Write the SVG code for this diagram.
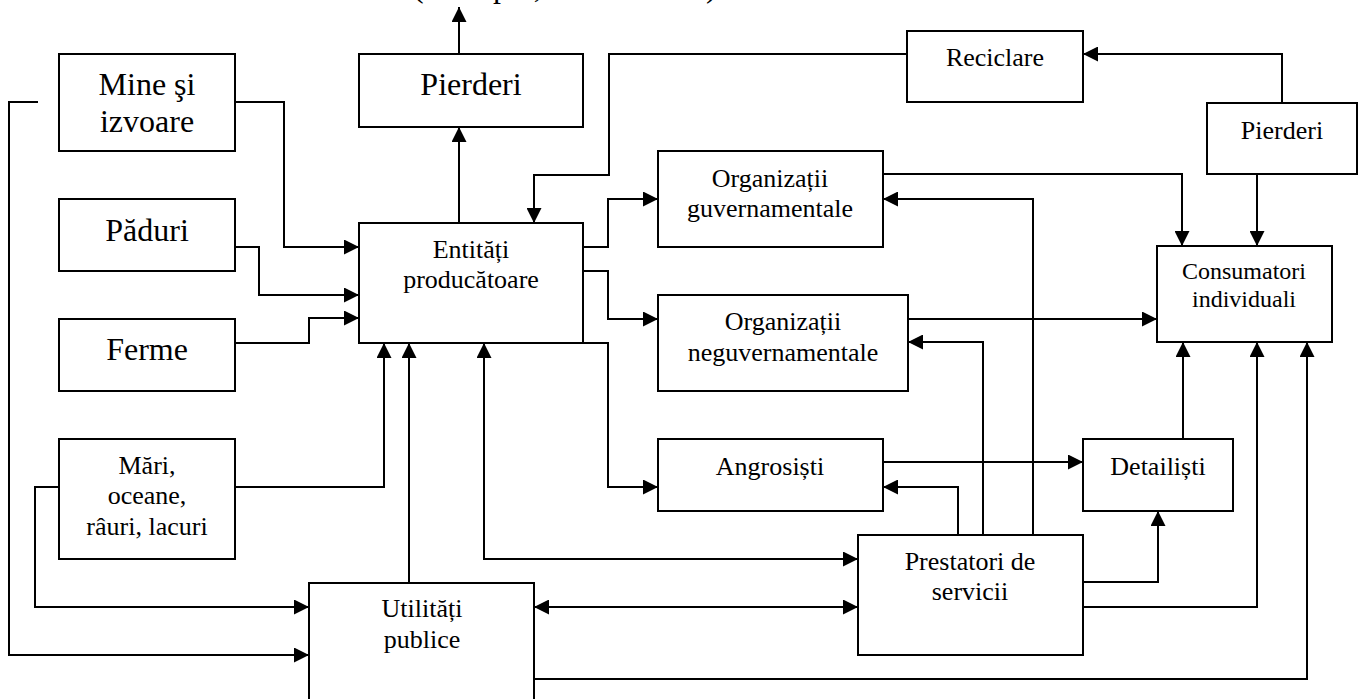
<svg xmlns="http://www.w3.org/2000/svg" width="1358" height="699" viewBox="0 0 1358 699">
  <defs>
    <style>
      .box { fill: #fff; stroke: #000; stroke-width: 2; }
      .lbl { fill: #000; text-anchor: middle; }
      .big { font-size: 32px; }
      .mid { font-size: 26px; }
      .sm { font-size: 24px; }
      .wire { fill: none; stroke: #000; stroke-width: 2; }
      .arr { marker-end: url(#head); }
      .both { marker-start: url(#head); marker-end: url(#head); }
    </style>
    <marker id="head" markerUnits="userSpaceOnUse" markerWidth="15" markerHeight="15" refX="15" refY="7.5" orient="auto-start-reverse">
      <path d="M0,0 L15,7.5 L0,15 z" fill="#000"/>
    </marker>
  </defs>
  <rect width="1358" height="699" fill="#fff"/>

  <g font-family="'Liberation Serif', 'Times New Roman', 'DejaVu Serif', serif">
  <!-- heading above the chart, mostly outside the canvas -->
  <text class="big" y="-3" fill="#000"><tspan x="413">(exemplu,</tspan><tspan x="706">)</tspan></text>

  <g id="connectors">
    <path class="wire arr" d="M235,102 H284 V247 H359"/>
    <path class="wire arr" d="M38,102 H9 V655 H309"/>
    <path class="wire arr" d="M235,247 H259 V295 H359"/>
    <path class="wire arr" d="M235,343 H309 V318 H359"/>
    <path class="wire arr" d="M235,487 H384 V343"/>
    <path class="wire arr" d="M59,487 H35 V607 H309"/>
    <path class="wire arr" d="M459,223 V127"/>
    <path class="wire arr" d="M459,54 V7"/>
    <path class="wire arr" d="M409,583 V343"/>
    <path class="wire both" d="M484,343 V559 H858"/>
    <path class="wire both" d="M534,607 H858"/>
    <path class="wire arr" d="M534,679 H1307 V342"/>
    <path class="wire arr" d="M583,247 H608 V199 H658"/>
    <path class="wire arr" d="M583,271 H608 V319 H658"/>
    <path class="wire arr" d="M583,343 H608 V487 H658"/>
    <path class="wire arr" d="M907,54 H609 V175 H534 V223"/>
    <path class="wire arr" d="M1282,103 V54 H1083"/>
    <path class="wire arr" d="M1257,174 V246"/>
    <path class="wire arr" d="M883,174 H1182 V246"/>
    <path class="wire arr" d="M908,319 H1157"/>
    <path class="wire arr" d="M883,462 H1083"/>
    <path class="wire arr" d="M958,535 V487 H883"/>
    <path class="wire arr" d="M983,535 V342 H908"/>
    <path class="wire arr" d="M1033,535 V199 H883"/>
    <path class="wire arr" d="M1183,439 V342"/>
    <path class="wire arr" d="M1083,582 H1158 V511"/>
    <path class="wire arr" d="M1083,607 H1257 V342"/>
  </g>

  <g id="mine">
    <rect class="box" x="59" y="54" width="176" height="97"/>
    <text class="lbl big" x="147" y="95">Mine şi</text>
    <text class="lbl big" x="147" y="132">izvoare</text>
  </g>
  <g id="paduri">
    <rect class="box" x="59" y="199" width="176" height="72"/>
    <text class="lbl big" x="147" y="241">Păduri</text>
  </g>
  <g id="ferme">
    <rect class="box" x="59" y="319" width="176" height="72"/>
    <text class="lbl big" x="147" y="360">Ferme</text>
  </g>
  <g id="mari">
    <rect class="box" x="59" y="439" width="176" height="120"/>
    <text class="lbl mid" x="147" y="474">Mări,</text>
    <text class="lbl mid" x="147" y="504">oceane,</text>
    <text class="lbl mid" x="147" y="535">râuri, lacuri</text>
  </g>
  <g id="pierderi-sus">
    <rect class="box" x="359" y="54" width="224" height="73"/>
    <text class="lbl big" x="471" y="95">Pierderi</text>
  </g>
  <g id="entitati">
    <rect class="box" x="359" y="223" width="224" height="120"/>
    <text class="lbl mid" x="471" y="258">Entități</text>
    <text class="lbl mid" x="471" y="288">producătoare</text>
  </g>
  <g id="utilitati">
    <rect class="box" x="309" y="583" width="225" height="130"/>
    <text class="lbl mid" x="422" y="617">Utilități</text>
    <text class="lbl mid" x="422" y="648">publice</text>
  </g>
  <g id="org-guv">
    <rect class="box" x="658" y="151" width="225" height="96"/>
    <text class="lbl mid" x="770" y="187">Organizații</text>
    <text class="lbl mid" x="770" y="217">guvernamentale</text>
  </g>
  <g id="org-neguv">
    <rect class="box" x="658" y="295" width="250" height="96"/>
    <text class="lbl mid" x="783" y="330">Organizații</text>
    <text class="lbl mid" x="783" y="361">neguvernamentale</text>
  </g>
  <g id="angrosisti">
    <rect class="box" x="658" y="439" width="225" height="72"/>
    <text class="lbl mid" x="770" y="475">Angrosiști</text>
  </g>
  <g id="prestatori">
    <rect class="box" x="858" y="535" width="225" height="120"/>
    <text class="lbl mid" x="970" y="570">Prestatori de</text>
    <text class="lbl mid" x="970" y="600">servicii</text>
  </g>
  <g id="detailisti">
    <rect class="box" x="1083" y="439" width="150" height="72"/>
    <text class="lbl mid" x="1158" y="475">Detailiști</text>
  </g>
  <g id="reciclare">
    <rect class="box" x="907" y="31" width="176" height="71"/>
    <text class="lbl mid" x="995" y="66">Reciclare</text>
  </g>
  <g id="pierderi-dreapta">
    <rect class="box" x="1207" y="103" width="150" height="71"/>
    <text class="lbl mid" x="1282" y="139">Pierderi</text>
  </g>
  <g id="consumatori">
    <rect class="box" x="1157" y="246" width="175" height="96"/>
    <text class="lbl sm" x="1244" y="279">Consumatori</text>
    <text class="lbl sm" x="1244" y="307">individuali</text>
  </g>
  </g>
</svg>
